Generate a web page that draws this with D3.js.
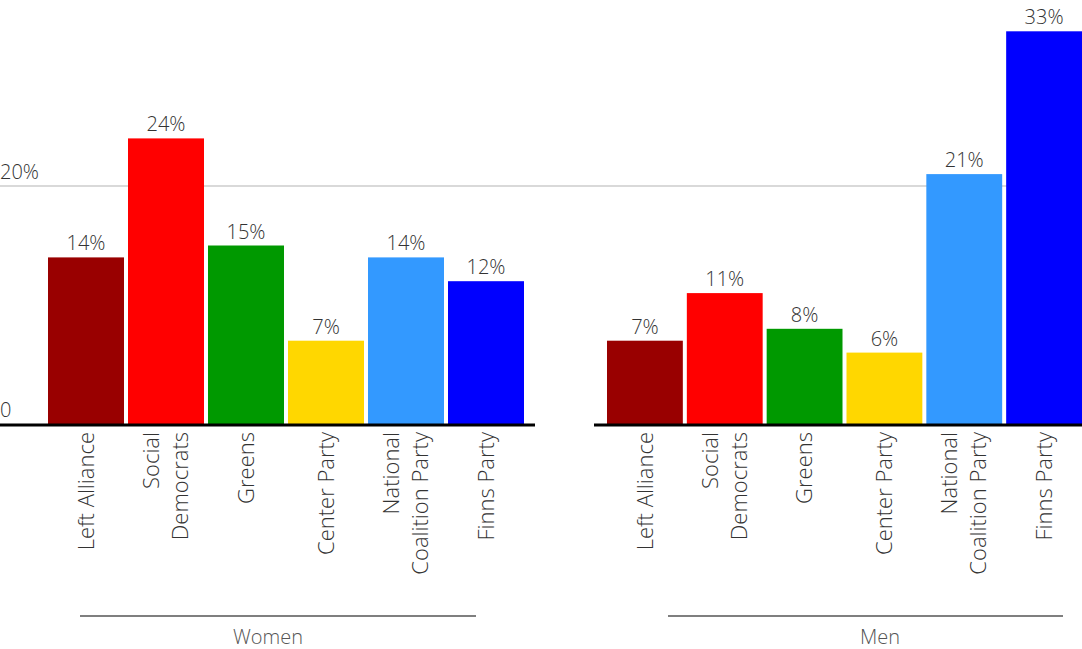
<!DOCTYPE html>
<html><head><meta charset="utf-8">
<script src="https://cdn.jsdelivr.net/npm/d3@7"></script>
<style>
body{margin:0;background:#fff;}
svg text{font-family:"Open Sans",Lato,sans-serif;font-weight:300;}
</style></head>
<body><svg id="c" width="1082" height="649"></svg>
<script>
const parties = ["Left Alliance","Social Democrats","Greens","Center Party","National Coalition Party","Finns Party"];
const partyLines = [["Left Alliance"],["Social","Democrats"],["Greens"],["Center Party"],["National","Coalition Party"],["Finns Party"]];
const partyColors = ["#990000","#ff0000","#009900","#ffd700","#3399ff","#0000ff"];
const groups = ["Women","Men"];
const womenValues = [14,24,15,7,14,12];
const menValues = [7,11,8,6,21,33];
const yTicks = [0,20];
const yTickLabels = ["0","20%"];

const svg = d3.select("#c");
const y = d3.scaleLinear().domain([0,20]).range([424,186]);

// gridline
svg.append("line").attr("x1",0).attr("x2",1082).attr("y1",y(20)).attr("y2",y(20))
  .attr("stroke","#cccccc").attr("stroke-width",1.5);

// tick labels
yTicks.forEach((t,i)=>{
  svg.append("text").attr("x",0).attr("y",y(t)-7).attr("font-size",20).attr("fill","#333")
    .text(yTickLabels[i]);
});

const layout = [
  {name:groups[0], values:womenValues, range:[46,526], base:[0,535], line:[80,476], labelX:268},
  {name:groups[1], values:menValues, range:[605,1084], base:[594,1082], line:[668,1063], labelX:880}
];

layout.forEach(g=>{
  const x = d3.scaleBand().domain(parties).range(g.range).paddingInner(0.05).paddingOuter(0.025);
  const gg = svg.append("g");
  gg.selectAll("rect").data(parties).join("rect")
    .attr("x",d=>x(d)).attr("width",x.bandwidth())
    .attr("y",(d,i)=>y(g.values[i])).attr("height",(d,i)=>y(0)-y(g.values[i]))
    .attr("fill",(d,i)=>partyColors[i]);
  gg.selectAll("text.val").data(parties).join("text").attr("class","val")
    .attr("x",d=>x(d)+x.bandwidth()/2).attr("y",(d,i)=>y(g.values[i])-7)
    .attr("text-anchor","middle").attr("font-size",20).attr("fill","#333")
    .text((d,i)=>g.values[i]+"%");
  // baseline
  gg.append("line").attr("x1",g.base[0]).attr("x2",g.base[1]).attr("y1",y(0)+1).attr("y2",y(0)+1)
    .attr("stroke","#000").attr("stroke-width",3);
  // category labels
  parties.forEach((p,i)=>{
    const cx = x(p)+x.bandwidth()/2;
    const lines = partyLines[i];
    lines.forEach((ln,j)=>{
      const off = (j-(lines.length-1)/2)*29;
      gg.append("text").attr("transform",`translate(${cx+off},432) rotate(-90)`)
        .attr("text-anchor","end").attr("dy","0.35em").attr("font-size",22).attr("fill","#333")
        .text(ln);
    });
  });
  // group label
  gg.append("line").attr("x1",g.line[0]).attr("x2",g.line[1]).attr("y1",616).attr("y2",616)
    .attr("stroke","#555").attr("stroke-width",1.5);
  gg.append("text").attr("x",g.labelX).attr("y",644).attr("text-anchor","middle")
    .attr("font-size",20).attr("fill","#555").text(g.name);
});
</script></body></html>
